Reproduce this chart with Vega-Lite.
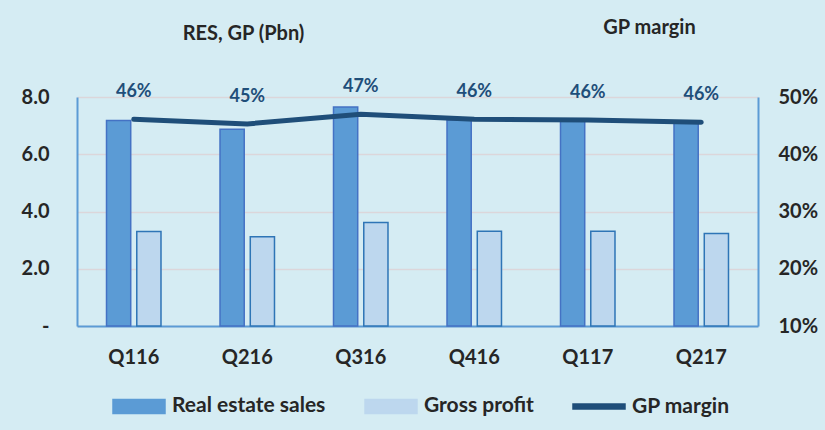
{
  "$schema": "https://vega.github.io/schema/vega-lite/v6.json",
  "width": 681,
  "height": 229,
  "autosize": {"type": "none"},
  "padding": {"left": 77, "top": 97, "right": 67, "bottom": 104},
  "background": "#D5ECF3",
  "config": {
    "view": {"stroke": null},
    "font": "Lato",
    "axis": {"labelFont": "Lato", "labelFontWeight": "bold", "labelFontSize": 20, "labelColor": "#262626", "titleFont": "Lato", "titleFontWeight": "bold", "titleFontSize": 20, "titleColor": "#262626"},
    "legend": {"labelFont": "Lato", "labelFontWeight": "bold", "labelFontSize": 21, "labelColor": "#262626"}
  },
  "datasets": {
    "bars": [
      {"q": "Q116", "series": "Real estate sales", "value": 7.18},
      {"q": "Q116", "series": "Gross profit", "value": 3.30},
      {"q": "Q216", "series": "Real estate sales", "value": 6.87},
      {"q": "Q216", "series": "Gross profit", "value": 3.12},
      {"q": "Q316", "series": "Real estate sales", "value": 7.65},
      {"q": "Q316", "series": "Gross profit", "value": 3.62},
      {"q": "Q416", "series": "Real estate sales", "value": 7.2},
      {"q": "Q416", "series": "Gross profit", "value": 3.31},
      {"q": "Q117", "series": "Real estate sales", "value": 7.2},
      {"q": "Q117", "series": "Gross profit", "value": 3.31},
      {"q": "Q217", "series": "Real estate sales", "value": 7.12},
      {"q": "Q217", "series": "Gross profit", "value": 3.23}
    ],
    "margin": [
      {"q": "Q116", "margin": 0.461},
      {"q": "Q216", "margin": 0.453},
      {"q": "Q316", "margin": 0.470},
      {"q": "Q416", "margin": 0.461},
      {"q": "Q117", "margin": 0.460},
      {"q": "Q217", "margin": 0.456}
    ]
  },
  "layer": [
    {
      "data": {"name": "bars"},
      "mark": {"type": "bar", "strokeWidth": 1.5},
      "encoding": {
        "x": {
          "field": "q", "type": "nominal", "sort": null,
          "scale": {"paddingInner": 0.52, "paddingOuter": 0.26},
          "axis": {"title": null, "labelAngle": 0, "ticks": false, "labelPadding": 21, "domainColor": "#5B9BD5", "domainWidth": 2}
        },
        "xOffset": {"field": "series", "type": "nominal", "sort": ["Real estate sales", "Gross profit"], "scale": {"paddingInner": 0.2, "paddingOuter": 0}},
        "y": {
          "field": "value", "type": "quantitative",
          "scale": {"domain": [0, 8], "nice": false},
          "axis": {
            "values": [0, 2, 4, 6, 8],
            "labelExpr": "datum.value == 0 ? '-\u00a0\u00a0' : format(datum.value, '.1f')",
            "title": "RES, GP (Pbn)", "titleAngle": 0, "titleX": 166, "titleY": -58, "titleAlign": "center", "titleBaseline": "alphabetic",
            "ticks": false, "labelPadding": 28, "domainColor": "#5B9BD5", "domainWidth": 2,
            "grid": true, "gridColor": "#DCD6DA", "gridWidth": 1.5
          }
        },
        "color": {
          "field": "series", "type": "nominal",
          "scale": {"domain": ["Real estate sales", "Gross profit", "GP margin"], "range": ["#5B9BD5", "#BDD7EE", "#1F4E79"]},
          "legend": {
            "title": null, "orient": "none", "direction": "horizontal", "legendX": 35, "legendY": 282,
            "symbolSize": 2704, "labelOffset": 6, "columnPadding": 36, "padding": 0,
            "symbolStrokeWidth": 1.5,
            "encode": {
              "symbols": {
                "update": {
                  "shape": {"signal": "datum.value === 'GP margin' ? 'M-1,-0.1H1V0.1H-1Z' : 'M-1,-0.27H1V0.27H-1Z'"},
                  "fill": {"signal": "datum.value === 'GP margin' ? '#1F4E79' : datum.value === 'Gross profit' ? '#BDD7EE' : '#5B9BD5'"},
                  "stroke": {"signal": "datum.value === 'GP margin' ? '#1F4E79' : datum.value === 'Gross profit' ? '#2E75B6' : '#4472C4'"},
                  "strokeWidth": {"value": 1.5},
                  "opacity": {"value": 1},
                  "fillOpacity": {"value": 1}
                }
              }
            }
          }
        },
        "stroke": {
          "field": "series", "type": "nominal",
          "scale": {"domain": ["Real estate sales", "Gross profit"], "range": ["#4472C4", "#2E75B6"]},
          "legend": null
        }
      }
    },
    {
      "data": {"name": "margin"},
      "layer": [
        {
          "mark": {"type": "line", "strokeWidth": 5, "strokeCap": "round", "color": "#1F4E79"},
          "encoding": {
            "x": {"field": "q", "type": "nominal", "sort": null},
            "y": {
              "field": "margin", "type": "quantitative",
              "scale": {"domain": [0.1, 0.5], "nice": false},
              "axis": {
                "orient": "right", "values": [0.1, 0.2, 0.3, 0.4, 0.5], "format": ".0%",
                "title": "GP margin", "titleAngle": 0, "titleX": -109, "titleY": -64, "titleAlign": "center", "titleBaseline": "alphabetic",
                "ticks": false, "labelPadding": 20, "domainColor": "#5B9BD5", "domainWidth": 2, "grid": false
              }
            },
            "color": {"datum": "GP margin"}
          }
        },
        {
          "mark": {"type": "text", "dy": -22, "baseline": "alphabetic", "font": "Lato", "fontWeight": "bold", "fontSize": 18, "color": "#1F4E79"},
          "encoding": {
            "x": {"field": "q", "type": "nominal", "sort": null},
            "y": {"field": "margin", "type": "quantitative"},
            "text": {"field": "margin", "type": "quantitative", "format": ".0%"}
          }
        }
      ]
    }
  ],
  "resolve": {"scale": {"y": "independent"}}
}
